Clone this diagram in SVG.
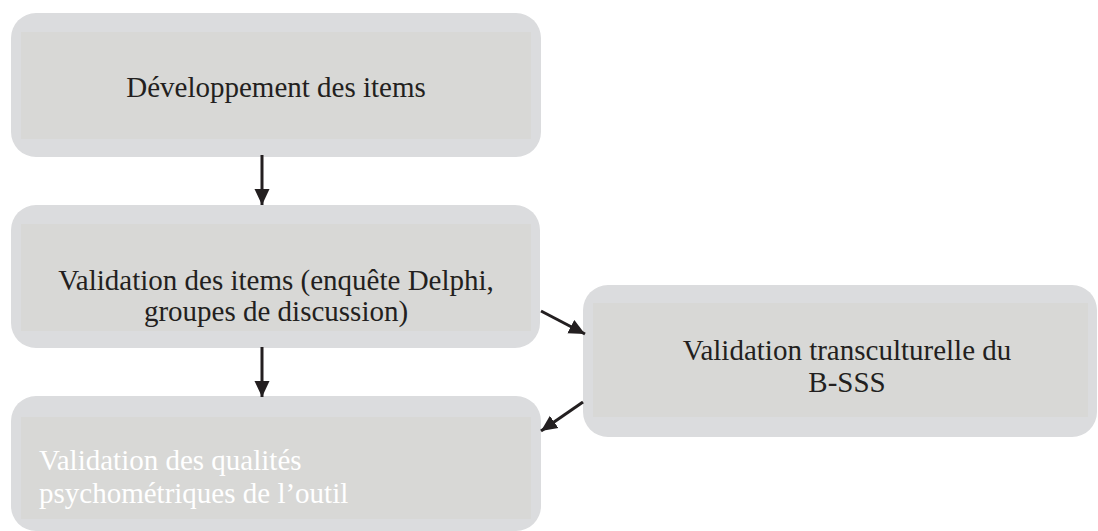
<svg xmlns="http://www.w3.org/2000/svg" width="1098" height="531" viewBox="0 0 1098 531">
<defs>
<style>
.outer{fill:#dbdcde}
.inner{fill:#d8d8d6}
.t{font-family:"Liberation Serif","Times New Roman",serif;font-size:29px;fill:#231f20}
.tc{text-anchor:middle}
.w{fill:#ffffff}
.conn{stroke:#231f20;stroke-width:3;fill:none}
</style>
<marker id="ah" markerWidth="16" markerHeight="16" viewBox="0 0 16 16" refX="16" refY="8" orient="auto" markerUnits="userSpaceOnUse">
<path d="M0,0.5 L16,8 L0,15.5 Z" fill="#231f20"/>
</marker>
</defs>
<rect width="1098" height="531" fill="#ffffff"/>
<g id="node-dev">
<rect class="outer" x="11" y="13" width="530" height="144" rx="25"/>
<rect class="inner" x="21" y="32" width="510" height="107"/>
<text class="t tc" x="276" y="97">Développement des items</text>
</g>
<g id="node-valid-items">
<rect class="outer" x="11" y="205" width="529" height="143" rx="25"/>
<rect class="inner" x="21" y="224" width="510" height="107"/>
<text class="t tc" x="276" y="290">Validation des items (enquête Delphi,</text>
<text class="t tc" x="276" y="321">groupes de discussion)</text>
</g>
<g id="node-transcult">
<rect class="outer" x="583" y="285" width="514" height="152" rx="25"/>
<rect class="inner" x="593" y="303" width="495" height="114"/>
<text class="t tc" x="847" y="360">Validation transculturelle du</text>
<text class="t tc" x="847" y="392">B-SSS</text>
</g>
<g id="node-psycho">
<rect class="outer" x="11" y="396" width="530" height="135" rx="25"/>
<rect class="inner" x="21" y="417" width="510" height="102"/>
<text class="t w" x="39" y="470">Validation des qualités</text>
<text class="t w" x="39" y="503">psychométriques de l’outil</text>
</g>
<g id="connectors">
<line class="conn" x1="262" y1="155" x2="262" y2="205" marker-end="url(#ah)"/>
<line class="conn" x1="262" y1="347" x2="262" y2="397" marker-end="url(#ah)"/>
<line class="conn" x1="541" y1="311" x2="585" y2="334" marker-end="url(#ah)"/>
<line class="conn" x1="583" y1="402" x2="541" y2="431" marker-end="url(#ah)"/>
</g>
</svg>
